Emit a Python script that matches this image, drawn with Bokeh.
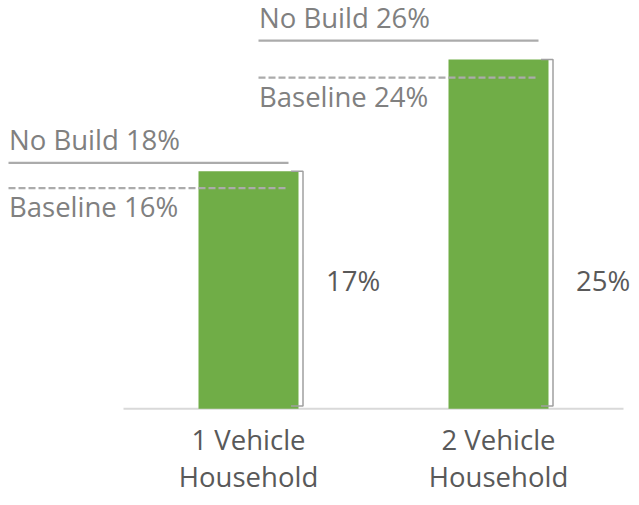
from bokeh.plotting import figure
from bokeh.models import Range1d, ColumnDataSource
from bokeh.embed import file_html
from bokeh.resources import INLINE
from bokeh.core.properties import value

# ---- data ----
categories = ["1 Vehicle Household", "2 Vehicle Household"]
shares = [17, 25]              # bar values, %
no_build = [18, 26]            # "No Build" reference, %
baseline = [16, 24]            # "Baseline" reference, %
no_build_level = [17.6, 26.35] # where the No Build line is drawn
baseline_level = [15.8, 23.7]  # where the Baseline line is drawn

FONT = "Open Sans"
FS = "27.5px"
GREEN = "#70AD47"
LINE_GREY = "#ABABAB"
TEXT_GREY = "#808080"
DARK_TEXT = "#595959"
C = 10.5  # correction of the rendered text baseline

xs = list(range(len(categories)))

p = figure(width=631, height=497, x_range=Range1d(-0.992, 1.532), y_range=Range1d(-6.35, 29.227),
           toolbar_location=None, output_backend="svg", min_border=0)
p.axis.visible = False
p.grid.visible = False
p.outline_line_color = None
p.background_fill_color = "white"
p.border_fill_color = "white"

# category axis line
p.segment(x0=[xs[0] - 0.5], x1=[xs[-1] + 0.5], y0=[0], y1=[0], line_color="#D9D9D9", line_width=2)

# bars
src = ColumnDataSource(dict(x=xs, top=shares,
                            lbl=[f"{v}%" for v in shares],
                            lx=[x + 0.31 for x in xs]))
p.vbar(x="x", top="top", bottom=0, width=0.4, source=src, fill_color=GREEN, line_color=None)

# brackets to the right of bars
bxs, bys = [], []
for x, v in zip(xs, shares):
    l, r = x + 0.17, x + 0.218
    bxs.append([l, r, r, l])
    bys.append([v, v, 0.2, 0.2])
p.multi_line(xs=bxs, ys=bys, line_color="#A0A0A0", line_width=1.5)

# value labels
p.text(x="lx", y=8.45, text="lbl", source=src, y_offset=-C, text_font=value(FONT), text_font_size=FS,
       text_color=DARK_TEXT, text_align="left", text_baseline="alphabetic")

# reference lines
p.segment(x0=[x - 0.96 for x in xs], x1=[x + 0.16 for x in xs], y0=no_build_level, y1=no_build_level,
          line_color=LINE_GREY, line_width=2.2)
p.segment(x0=[x - 0.96 for x in xs], x1=[x + 0.16 for x in xs], y0=baseline_level, y1=baseline_level,
          line_color=LINE_GREY, line_width=2.2, line_dash="7 3")

p.text(x=[x - 0.958 for x in xs], y=no_build_level, text=[f"No Build {v}%" for v in no_build],
       y_offset=-13 - C, text_font=value(FONT), text_font_size=FS, text_color=TEXT_GREY,
       text_align="left", text_baseline="alphabetic")
p.text(x=[x - 0.958 for x in xs], y=baseline_level, text=[f"Baseline {v}%" for v in baseline],
       y_offset=29 - C, text_font=value(FONT), text_font_size=FS, text_color=TEXT_GREY,
       text_align="left", text_baseline="alphabetic")

# category labels (two lines)
line1 = [" ".join(c.split(" ")[:2]) for c in categories]
line2 = [" ".join(c.split(" ")[2:]) for c in categories]
p.text(x=xs, y=[0] * len(xs), text=line1, y_offset=41 - C, text_font=value(FONT), text_font_size=FS,
       text_color=DARK_TEXT, text_align="center", text_baseline="alphabetic")
p.text(x=xs, y=[0] * len(xs), text=line2, y_offset=78 - C, text_font=value(FONT), text_font_size=FS,
       text_color=DARK_TEXT, text_align="center", text_baseline="alphabetic")

open("out.html", "w").write(file_html(p, INLINE))
